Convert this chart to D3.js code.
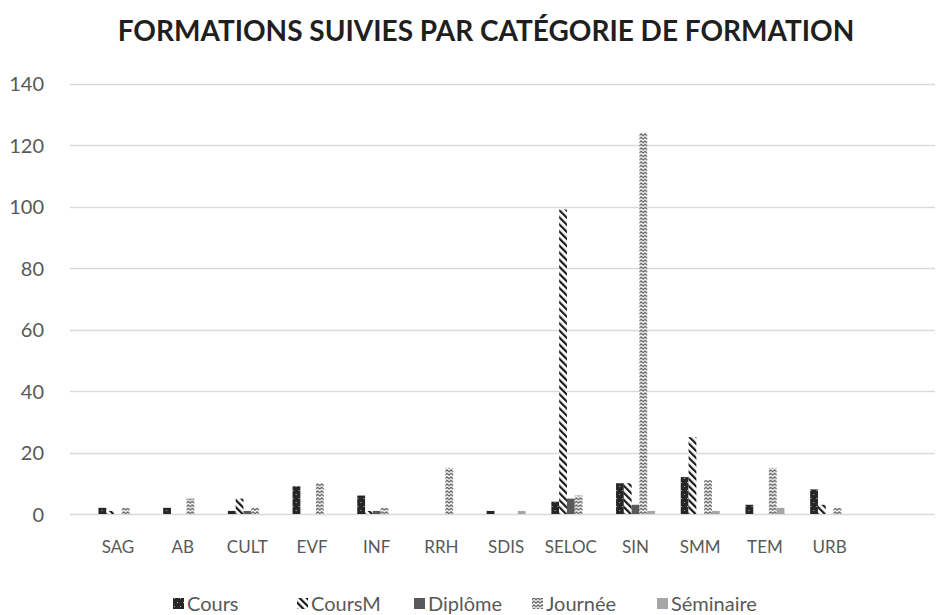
<!DOCTYPE html>
<html>
<head>
<meta charset="utf-8">
<script src="https://cdn.jsdelivr.net/npm/d3@7"></script>
<style>
  body { margin: 0; background: #fff; }
  text { font-family: Lato, "Open Sans", sans-serif; }
</style>
</head>
<body>
<div id="chart"></div>
<script>
// data
const categories = ["SAG", "AB", "CULT", "EVF", "INF", "RRH", "SDIS", "SELOC", "SIN", "SMM", "TEM", "URB"]
const seriesNames = ["Cours", "CoursM", "Diplôme", "Journée", "Séminaire"]
const cours     = [2, 2, 1, 9, 6, 0, 1, 4, 10, 12, 3, 8]
const coursM    = [1, 0, 5, 0, 1, 0, 0, 99, 10, 25, 0, 3]
const diplome   = [0, 0, 1, 0, 1, 0, 0, 5, 3, 0, 0, 0]
const journee   = [2, 5, 2, 10, 2, 15, 0, 6, 124, 11, 15, 2]
const seminaire = [0, 0, 0, 0, 0, 0, 1, 0, 1, 1, 2, 0]
const yTicks = [0, 20, 40, 60, 80, 100, 120, 140]

const seriesValues = [cours, coursM, diplome, journee, seminaire]

const width = 945, height = 615
const margin = {top: 83.5, right: 10, bottom: 101, left: 70}

const svg = d3.select("#chart").append("svg")
  .attr("width", width)
  .attr("height", height)

// fill patterns like the excel ones
const defs = svg.append("defs")

const pCours = defs.append("pattern").attr("id", "p-cours")
  .attr("patternUnits", "userSpaceOnUse").attr("width", 6).attr("height", 8)
pCours.append("rect").attr("width", 6).attr("height", 8).attr("fill", "#262626")
pCours.append("rect").attr("x", 1).attr("y", 2).attr("width", 1).attr("height", 1).attr("fill", "#bbb")
pCours.append("rect").attr("x", 4).attr("y", 6).attr("width", 1).attr("height", 1).attr("fill", "#bbb")

const pCoursM = defs.append("pattern").attr("id", "p-coursm")
  .attr("patternUnits", "userSpaceOnUse").attr("width", 5).attr("height", 5)
  .attr("patternTransform", "rotate(-45)")
pCoursM.append("rect").attr("width", 5).attr("height", 5).attr("fill", "#fff")
pCoursM.append("rect").attr("width", 2.2).attr("height", 5).attr("fill", "#1a1a1a")

const pJour = defs.append("pattern").attr("id", "p-journee")
  .attr("patternUnits", "userSpaceOnUse").attr("width", 4).attr("height", 3.5)
pJour.append("rect").attr("width", 4).attr("height", 3.5).attr("fill", "#fff")
pJour.append("path").attr("d", "M0,2.8 L2,0.8 L4,2.8")
  .attr("fill", "none").attr("stroke", "#4a4a4a").attr("stroke-width", 1.1)

const fills = ["url(#p-cours)", "url(#p-coursm)", "#595959", "url(#p-journee)", "#a6a6a6"]

// categories only fill part of the plot width, like the original
const x = d3.scaleBand()
  .domain(categories)
  .range([85.6, 862])
  .paddingInner(0)

const xSub = d3.scaleBand()
  .domain(seriesNames)
  .range([0, x.bandwidth()])
  .paddingOuter(1.65)

const y = d3.scaleLinear()
  .domain([0, 140])
  .range([height - margin.bottom, margin.top])

// grid lines
svg.append("g")
  .selectAll("line")
  .data(yTicks)
  .join("line")
    .attr("x1", margin.left)
    .attr("x2", width - margin.right)
    .attr("y1", d => Math.round(y(d)) + 0.5)
    .attr("y2", d => Math.round(y(d)) + 0.5)
    .attr("stroke", "#d9d9d9")
    .attr("stroke-width", 1.3)

// y axis labels
const yAxis = svg.append("g")
  .attr("transform", `translate(${margin.left - 26},0)`)
  .call(d3.axisLeft(y).tickValues(yTicks).tickSize(0).tickPadding(0))
yAxis.select(".domain").remove()
yAxis.selectAll("text")
  .attr("fill", "#595959")
  .style("font-size", "20px")
  .attr("dy", "0.35em")

// bars
const groups = svg.append("g")
  .selectAll("g")
  .data(categories)
  .join("g")
    .attr("transform", d => `translate(${x(d)},0)`)

groups.selectAll("rect")
  .data((c, i) => seriesNames.map((s, k) => ({series: s, k: k, value: seriesValues[k][i]})))
  .join("rect")
    .attr("x", d => xSub(d.series))
    .attr("width", xSub.bandwidth())
    .attr("y", d => y(d.value))
    .attr("height", d => y(0) - y(d.value))
    .attr("fill", d => fills[d.k])

// x axis labels
const xAxis = svg.append("g")
  .attr("transform", `translate(0,${y(0) + 33})`)
  .call(d3.axisBottom(x).tickSize(0).tickPadding(0))
xAxis.select(".domain").remove()
xAxis.selectAll("text")
  .attr("fill", "#595959")
  .attr("dy", "0.35em")
  .style("font-size", "17px")

// title
svg.append("text")
  .attr("x", 486)
  .attr("y", 41)
  .attr("text-anchor", "middle")
  .style("font-size", "28px")
  .style("font-weight", "bold")
  .attr("fill", "#1f1f1f")
  .text("FORMATIONS SUIVIES PAR CATÉGORIE DE FORMATION")

// legend
const legendX = [173, 297, 414, 532, 657]
const legend = svg.append("g")
  .selectAll("g")
  .data(seriesNames)
  .join("g")
    .attr("transform", (d, i) => `translate(${legendX[i]},604)`)
legend.append("rect")
  .attr("x", 0).attr("y", -6)
  .attr("width", 11).attr("height", 11)
  .attr("fill", (d, i) => fills[i])
legend.append("text")
  .attr("x", 14)
  .attr("dy", "0.35em")
  .attr("fill", "#595959")
  .style("font-size", "20px")
  .text(d => d)
</script>
</body>
</html>
